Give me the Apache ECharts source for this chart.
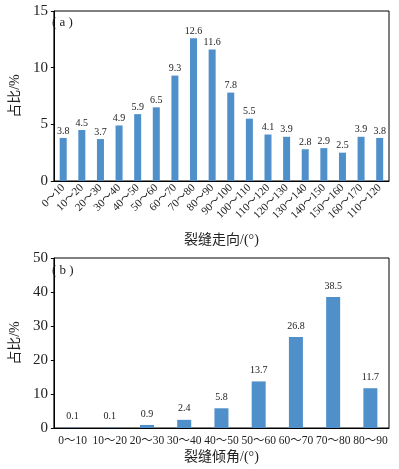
<!DOCTYPE html>
<html>
<head>
<meta charset="utf-8">
<script src="https://cdn.jsdelivr.net/npm/echarts@6/dist/echarts.min.js"></script>
<style>
html,body{margin:0;padding:0;background:#fff;}
#main{width:399px;height:469px;}
</style>
</head>
<body>
<div id="main"></div>
<script>
// 裂缝走向
var strikeCats = ['0～10','10～20','20～30','30～40','40～50','50～60','60～70','70～80','80～90','90～100','100～110','110～120','120～130','130～140','140～150','150～160','160～170','110～120'];
var strikeVals = [3.8,4.5,3.7,4.9,5.9,6.5,9.3,12.6,11.6,7.8,5.5,4.1,3.9,2.8,2.9,2.5,3.9,3.8];
// 裂缝倾角
var dipCats = ['0～10','10～20','20～30','30～40','40～50','50～60','60～70','70～80','80～90'];
var dipVals = [0.1,0.1,0.9,2.4,5.8,13.7,26.8,38.5,11.7];

var serif = '"Liberation Serif", "Noto Sans CJK SC", serif';
var barColor = '#4f8fca';

function yAxisOpt(idx, max, interval){
	return {
		gridIndex: idx, type: 'value', min: 0, max: max, interval: interval,
		name: '占比/%', nameLocation: 'middle', nameGap: 21, nameRotate: 90,
		nameTextStyle: {fontFamily: serif, fontSize: 14, color: '#222'},
		axisLine: {show: true, lineStyle: {color: '#000'}},
		axisTick: {show: true, length: 3, lineStyle: {color: '#000'}},
		axisLabel: {fontFamily: serif, fontSize: 15, color: '#222', margin: 6},
		splitLine: {show: false}
	};
}

var myChart = echarts.init(document.getElementById('main'));
var option = {
	animation: false,
	textStyle: {fontFamily: serif},
	graphic: [
		// 子图编号
		{type: 'text', left: 52, top: 16, z: 100, style: {text: '( a )', font: '13px "Liberation Serif"', fill: '#222'}},
		{type: 'text', left: 52, top: 264, z: 100, style: {text: '( b )', font: '13px "Liberation Serif"', fill: '#222'}}
	],
	grid: [
		{left: 43, top: 11, right: 10, height: 170, show: true, borderColor: '#000', borderWidth: 1},
		{left: 43, top: 258, right: 10, height: 170, show: true, borderColor: '#000', borderWidth: 1}
	],
	xAxis: [
		{
			gridIndex: 0, type: 'category', data: strikeCats,
			name: '裂缝走向/(°)', nameLocation: 'middle', nameGap: 52,
			nameTextStyle: {fontFamily: serif, fontSize: 14, color: '#222'},
			axisLine: {lineStyle: {color: '#000'}},
			axisTick: {show: false},
			axisLabel: {rotate: 45, interval: 0, fontFamily: serif, fontSize: 11, color: '#222', margin: 5}
		},
		{
			gridIndex: 1, type: 'category', data: dipCats,
			name: '裂缝倾角/(°)', nameLocation: 'middle', nameGap: 22,
			nameTextStyle: {fontFamily: serif, fontSize: 14, color: '#222'},
			axisLine: {lineStyle: {color: '#000'}},
			axisTick: {show: false},
			axisLabel: {interval: 0, fontFamily: serif, fontSize: 11.5, color: '#222', margin: 7}
		}
	],
	yAxis: [yAxisOpt(0, 15, 5), yAxisOpt(1, 50, 10)],
	series: [
		{
			type: 'bar', xAxisIndex: 0, yAxisIndex: 0, data: strikeVals, barWidth: 7,
			itemStyle: {color: barColor},
			label: {show: true, position: 'top', distance: 2, fontFamily: serif, fontSize: 10, color: '#222'}
		},
		{
			type: 'bar', xAxisIndex: 1, yAxisIndex: 1, data: dipVals, barWidth: 14,
			itemStyle: {color: barColor},
			label: {show: true, position: 'top', distance: 6, fontFamily: serif, fontSize: 10, color: '#222'}
		}
	]
};
myChart.setOption(option);
</script>
</body>
</html>
